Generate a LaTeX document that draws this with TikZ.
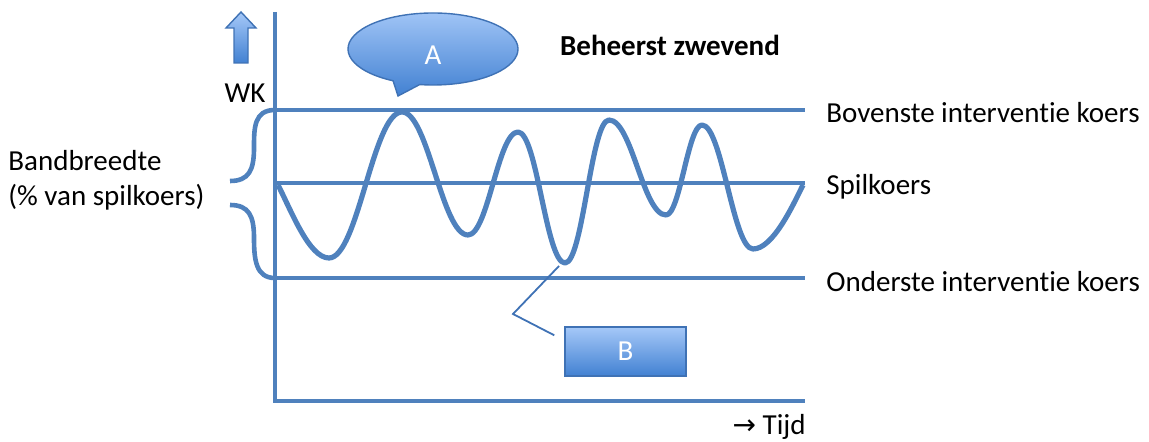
\documentclass[tikz,border=0pt]{standalone}
\usepackage{fontspec}
\setmainfont[Ligatures=NoCommon]{Carlito}
\newfontfamily\arrowfont{DejaVu Sans}
\usepackage{tikz}
\usetikzlibrary{arrows.meta,positioning,calc}
\definecolor{WKBlue}{HTML}{4F81BD}
\definecolor{WKEdge}{HTML}{3F72B5}
\definecolor{WKLight}{HTML}{A5C8F8}
\definecolor{WKDark}{HTML}{4281D2}

\begin{document}
\begin{tikzpicture}[
    x=0.5pt, y=-0.5pt,
    font=\fontsize{14.5}{17.5}\selectfont,
    line/.style={draw=WKBlue, line width=2.3pt},
    wave/.style={draw=WKBlue, line width=2.6pt, line join=round},
    bubble/.style={draw=WKEdge, line width=0.7pt, top color=WKLight, bottom color=WKDark},
    lbl/.style={anchor=west, inner sep=0pt},
  ]
    \useasboundingbox (0,0) rectangle (1149,442);

    % ---- assen ----
    \coordinate (yTop) at (275,12);
    \coordinate (origin) at (275,401);
    \coordinate (xEnd) at (805,401);
    \draw[line] (yTop) -- (origin) -- (xEnd);

    % ---- koerslijnen ----
    \coordinate (upL) at (275,110);  \coordinate (upR) at (805,110);
    \coordinate (midL) at (275,183); \coordinate (midR) at (805,183);
    \coordinate (lowL) at (275,278); \coordinate (lowR) at (805,278);
    \draw[line] (upL) -- (upR);
    \draw[line] (midL) -- (midR);
    \draw[line] (lowL) -- (lowR);

    % ---- accolade ----
    \draw[line] (upL) .. controls (254,110) and (254,128) .. (254,148)
      .. controls (254,170) and (249,181) .. (230,181);
    \draw[line] (230,205) .. controls (249,205) and (254,216) .. (254,238)
      .. controls (254,260) and (256,278) .. (lowL);

    % ---- wisselkoers ----
    \draw[wave] (278,185) .. controls (291,210) and (309,258) .. (329,258)
      .. controls (358,258) and (373,112) .. (402,112)
      .. controls (428,112) and (442,235) .. (468,235)
      .. controls (488,235) and (498,132) .. (518,132)
      .. controls (537,132) and (546,263) .. (565,263)
      .. controls (583,263) and (591,120) .. (609,120)
      .. controls (632,120) and (643,215) .. (666,215)
      .. controls (680,215) and (688,125) .. (702,125)
      .. controls (722,125) and (733,249) .. (753,249)
      .. controls (773,249) and (793,205) .. (803,185);

    % ---- pijl WK ----
    \draw[bubble] (241,12) -- (256,28) -- (248,28) -- (248,63) -- (234,63) -- (234,28) -- (226,28) -- cycle;
    \node (wkTxt) at (245,93) {WK};

    % ---- ballon A ----
    \coordinate (cA) at (433,49);
    \draw[bubble] ($(cA)+(242:42.5pt and 18pt)$) arc[start angle=242, end angle=-99, x radius=42.5pt, y radius=18pt]
      -- (398,96) -- cycle;
    \node[text=white] (lblA) at (433,55) {A};

    % ---- kader B ----
    \node[bubble, minimum width=60.5pt, minimum height=24.5pt, inner sep=0pt, text=white] (boxB) at (625.5,351.5) {B};
    \coordinate (tailB) at (513,314);
    \coordinate (tipB) at (559,266);
    \draw[WKEdge, line width=0.9pt] ([xshift=-5pt,yshift=-4.5pt]boxB.north west) -- (tailB) -- (tipB);

    % ---- teksten ----
    \node[font=\fontsize{14.5}{17.5}\selectfont\bfseries] (titel) at (670,45) {Beheerst zwevend};
    \node[lbl, align=left] (bandTxt) at (8,180) {Bandbreedte\\(\% van spilkoers)};
    \node[lbl] (upTxt) at (826,113) {Bovenste intervent\kern0pt ie koers};
    \node[lbl] (midTxt) at (826,187) {Spilkoers};
    \node[lbl] (lowTxt) at (826,282) {Onderste intervent\kern0pt ie koers};
    \node[anchor=east, inner sep=0pt] (tijdTxt) at (806,427) {{\arrowfont\fontsize{14}{16}\selectfont →} Tijd};
  \end{tikzpicture}
\end{document}
